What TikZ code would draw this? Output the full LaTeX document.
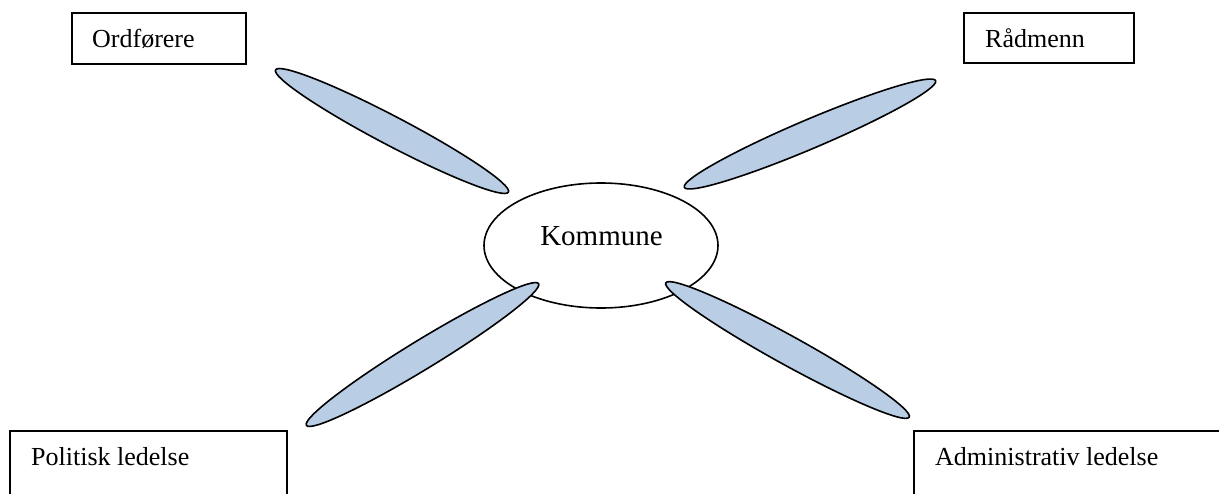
\documentclass[tikz,border=0pt]{standalone}
\usepackage{fontspec}
\setmainfont{Liberation Serif}
\usetikzlibrary{shapes.geometric}
\definecolor{petalblue}{HTML}{B9CDE5}
\tikzset{
  boxframe/.style={draw=black, line width=1.9pt, rectangle, anchor=north west, inner sep=0pt, fill=white},
  boxtext/.style={anchor=base west, inner sep=0pt, font=\fontsize{26}{30}\selectfont},
  petal/.style={draw=black, line width=1.6pt, fill=petalblue, ellipse, inner sep=0pt, minimum height=29pt},
  hub/.style={draw=black, line width=1.6pt, fill=white, ellipse, inner sep=0pt}
}
\begin{document}
\begin{tikzpicture}[x=1pt,y=-1pt]
\useasboundingbox (0,0) rectangle (1219,493);
\fill[white] (0,0) rectangle (1219,493);
% boxes
\node[boxframe, minimum width=174pt, minimum height=51pt] (ordbox) at (71,12) {};
\node[boxtext] (ordtext) at (92,47) {Ordførere};
\node[boxframe, minimum width=170pt, minimum height=50pt] (radbox) at (963,12) {};
\node[boxtext] (radtext) at (985,47) {Rådmenn};
\node[boxframe, minimum width=277pt, minimum height=90pt] (polbox) at (9,430) {};
\node[boxtext] (poltext) at (31,465) {Politisk ledelse};
\node[boxframe, minimum width=307pt, minimum height=90pt] (admbox) at (913,430) {};
\node[boxtext] (admtext) at (935,465) {Administrativ ledelse};
% hub
\node[hub, minimum width=234pt, minimum height=125pt] (kommune) at (601,245.5) {};
% petals
\node[petal, minimum width=263pt, rotate=-27.7] (petaltl) at (392,131) {};
\node[petal, minimum width=273pt, rotate=23] (petaltr) at (810,134) {};
\node[petal, minimum width=272pt, rotate=31.4] (petalbl) at (422.5,354.5) {};
\node[petal, minimum width=278pt, rotate=-28.9] (petalbr) at (787.5,350) {};
% hub label
\node[anchor=base, inner sep=0pt, font=\fontsize{29}{34}\selectfont] (kommunetext) at (601.5,245) {Kommune};
\end{tikzpicture}
\end{document}
